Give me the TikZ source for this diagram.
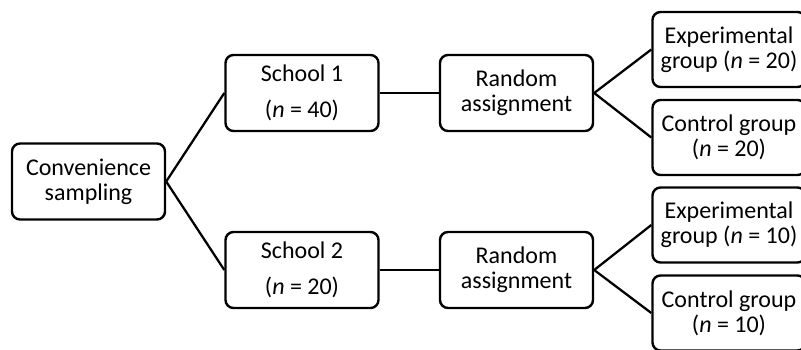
\documentclass[tikz,border=0pt]{standalone}
\usepackage{fontspec}
\setmainfont{Carlito}
\usepackage{xcolor}

\tikzset{
  stagebox/.style={draw, line width=1.8pt, rounded corners=6pt, minimum width=114.75pt,
    minimum height=57pt, align=center, inner sep=0pt,
    font=\fontsize{18}{19}\selectfont},
  link/.style={line width=1.7pt}
}

\begin{document}
\begin{tikzpicture}[x=0.75pt,y=0.75pt,yscale=-1,xscale=1]
\useasboundingbox (0,0) rectangle (801,350);
\clip (0,0) rectangle (801,350);

%Boxes
\node [stagebox] (conv) at (88.5,181.5) {Convenience\\sampling};
\node [stagebox] (school1) at (302,93) {School 1\\[8pt](\textit{n} = 40)};
\node [stagebox] (school2) at (302,270) {School 2\\[8pt](\textit{n} = 20)};
\node [stagebox] (rand1) at (516.5,93) {Random\\assignment};
\node [stagebox] (rand2) at (516.5,270) {Random\\assignment};
\node [stagebox, minimum height=56.25pt] (exp1) at (729,49.5) {Experimental\\group (\textit{n} = 20)};
\node [stagebox, minimum height=56.25pt] (ctrl1) at (729,137.5) {Control group\\(\textit{n} = 20)};
\node [stagebox, minimum height=56.25pt] (exp2) at (729,225) {Experimental\\group (\textit{n} = 10)};
\node [stagebox, minimum height=56.25pt] (ctrl2) at (729,313) {Control group\\(\textit{n} = 10)};

%Connectors
\draw [link] (conv.east) -- (school1.west);
\draw [link] (conv.east) -- (school2.west);
\draw [link] (school1) -- (rand1);
\draw [link] (school2) -- (rand2);
\draw [link] (rand1.east) -- (exp1.west);
\draw [link] (rand1.east) -- (ctrl1.west);
\draw [link] (rand2.east) -- (exp2.west);
\draw [link] (rand2.east) -- (ctrl2.west);
\end{tikzpicture}
\end{document}
